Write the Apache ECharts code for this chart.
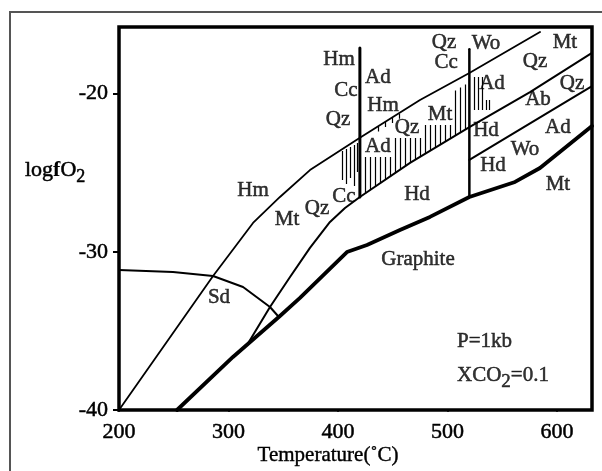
<!DOCTYPE html>
<html><head><meta charset="utf-8">
<script src="https://cdn.jsdelivr.net/npm/echarts@6/dist/echarts.min.js"></script>
<style>html,body{margin:0;padding:0;background:#fff}#c{width:602px;height:471px}</style>
</head><body><div id="c"></div>
<script>
// ---- data (T in °C, logfO2) ----
const xTicks = [200, 300, 400, 500, 600];
const yTicks = [-40, -30, -20];
const hmMt = [[200,-40],[285.9,-31.53],[322.4,-28.18],[347.0,-26.54],[374.4,-24.84],[420,-22.8],[474.9,-20.41],[520,-18.71],[584.5,-16.12]];
const mtHd = [[317.8,-35.8],[337.9,-33.49],[356.2,-31.6],[374.4,-29.76],[392.7,-28.12],[406.4,-27.24],[420,-26.54],[465.8,-24.39],[520,-22.12],[575.4,-19.91],[632,-17.44]];
const hdAb = [[520,-24.2],[632,-19.53]];
const graphite = [[253,-40],[304.1,-36.65],[347,-34.06],[365.3,-32.92],[408.2,-30.02],[426.5,-29.57],[456.6,-28.63],[484,-27.8],[520,-26.54],[561.7,-25.59],[584.5,-24.71],[632,-22.05]];
const sdCurve = [[200,-31.15],[249.3,-31.28],[285.9,-31.53],[313.3,-32.23],[337.9,-33.49],[345.2,-34.06]];
const iso420 = [[420,-17.13],[420,-26.54]];
const iso520 = [[520,-17.2],[520,-26.54]];
// hatch strokes: [T, top, bottom]
const hatch = [
 [403.7,-23.63,-25.47],[407.3,-23.51,-25.72],[411.0,-23.38,-25.34],[414.6,-23.25,-25.85],[417.4,-23.13,-24.96],
 [424.7,-24.01,-26.33],[429.2,-24.01,-26.11],[433.8,-24.01,-25.90],[438.4,-24.01,-25.69],[442.9,-24.01,-25.47],[447.5,-24.01,-25.25],
 [452.1,-22.81,-25.04],[456.6,-22.81,-24.82],[461.2,-22.81,-24.61],[465.8,-22.81,-24.39],[470.3,-22.81,-24.20],[474.9,-22.81,-24.01],
 [479.5,-21.99,-23.82],[484.0,-21.99,-23.63],[488.6,-21.99,-23.44],[493.2,-21.99,-23.25],[497.7,-21.99,-23.06],[502.3,-21.99,-22.88],
 [506.9,-19.81,-22.69],[511.4,-19.62,-22.50],[516.0,-19.43,-22.31],
 [524.2,-18.96,-21.04],[527.9,-18.96,-21.04],[531.5,-18.96,-21.04],[535.2,-20.41,-21.04],[537.9,-20.41,-21.04],
 [436.5,-22.09,-22.41],[443.0,-21.80,-22.12],[449.3,-21.55,-21.87],[455.7,-21.28,-21.60]
];
// region labels: [T, logfO2, text]
const regionLabels = [
 [322.4,-26.10,'Hm'],[353.4,-27.99,'Mt'],[380.8,-27.24,'Qz'],[405.5,-26.48,'Cc'],
 [400.9,-17.88,'Hm'],[407.3,-19.84,'Cc'],[400.0,-21.67,'Qz'],
 [436.5,-18.96,'Ad'],[441.1,-20.79,'Hm'],[436.5,-23.32,'Ad'],[463.0,-22.18,'Qz'],[493.2,-21.30,'Mt'],
 [472.2,-26.41,'Hd'],[496.8,-16.75,'Qz'],[498.7,-18.07,'Cc'],[535.2,-16.81,'Wo'],[607.3,-16.75,'Mt'],
 [579.9,-17.95,'Qz'],[540.7,-19.34,'Ad'],[613.7,-19.34,'Qz'],[582.7,-20.35,'Ab'],[535.2,-22.37,'Hd'],
 [600.9,-22.18,'Ad'],[570.8,-23.57,'Wo'],[541.6,-24.58,'Hd'],[600.9,-25.78,'Mt'],
 [473.1,-30.52,'Graphite'],[291.3,-32.92,'Sd']
];
const condLabels = [[508.7,-35.64,'P=1kb'],[508.7,-37.79,'{n|XCO}{s|2}{n|=0.1}']];

const FONT = 'Liberation Serif';
const INK = {textBorderColor:'#000', textBorderWidth:0.5};
const chart = echarts.init(document.getElementById('c'), null, {renderer:'canvas'});
function lineSeries(data, width){
  return {type:'line', data:data, showSymbol:false, symbol:'none', silent:true, animation:false,
    lineStyle:{color:'#000', width:width, join:'round', cap:'round'}, z:3};
}
const option = {
  animation:false,
  backgroundColor:'#fff',
  grid:{left:119, right:10, top:27, bottom:61, show:true, borderColor:'#000', borderWidth:3.5, backgroundColor:'transparent'},
  xAxis:{type:'value', min:200, max:632, interval:100,
    axisLine:{show:false}, splitLine:{show:false},
    axisTick:{show:true, length:2, customValues:xTicks, lineStyle:{color:'#000', width:1.5}},
    axisLabel:Object.assign({customValues:xTicks, color:'#000', fontFamily:FONT, fontSize:22, margin:11}, INK)},
  yAxis:{type:'value', min:-40, max:-15.8, interval:10,
    axisLine:{show:false}, splitLine:{show:false},
    axisTick:{show:true, length:6, customValues:yTicks, lineStyle:{color:'#000', width:2}},
    axisLabel:Object.assign({customValues:yTicks, color:'#000', fontFamily:FONT, fontSize:22, margin:11}, INK)},
  graphic:[
    {type:'rect', shape:{x:10, y:12, width:600, height:470}, style:{fill:'none', stroke:'#555', lineWidth:2}, z:0},
    {type:'text', x:25, y:170, style:{text:'{n|log}{b|f}{n|O}{s|2}', verticalAlign:'middle',
      rich:{n:{fontFamily:FONT, fontSize:22, fill:'#000', stroke:'#000', lineWidth:0.5},
            b:{fontFamily:FONT, fontSize:22, fontWeight:'bold', fill:'#000'},
            s:{fontFamily:FONT, fontSize:18, fill:'#000', stroke:'#000', lineWidth:0.5, padding:[14,0,0,0]}}}},
    {type:'text', x:328, y:455, style:{text:'Temperature(˚C)', fontFamily:FONT, fontSize:21, fill:'#000', stroke:'#000', lineWidth:0.4, align:'center', verticalAlign:'middle'}}
  ],
  series:[
    lineSeries(hmMt, 1.8),
    lineSeries(mtHd, 2),
    lineSeries(hdAb, 2),
    lineSeries(graphite, 3.8),
    lineSeries(sdCurve, 2),
    lineSeries(iso420, 3),
    lineSeries(iso520, 2.5),
    {type:'lines', coordinateSystem:'cartesian2d', silent:true, animation:false, z:2,
      lineStyle:{color:'#000', width:1.2, opacity:1},
      data: hatch.map(h => ({coords:[[h[0],h[1]],[h[0],h[2]]]}))},
    {type:'scatter', silent:true, animation:false, symbolSize:1, itemStyle:{color:'rgba(0,0,0,0)'}, z:5,
      data: regionLabels.map(l => ({value:[l[0],l[1]], name:l[2]})),
      label:Object.assign({show:true, position:'inside', formatter:'{b}', color:'#000', fontFamily:FONT, fontSize:21}, INK)},
    {type:'scatter', silent:true, animation:false, symbolSize:1, itemStyle:{color:'rgba(0,0,0,0)'}, z:5,
      data: condLabels.map(l => ({value:[l[0],l[1]], name:l[2]})),
      label:{show:true, position:'inside', align:'left', formatter:'{b}', color:'#000', fontFamily:FONT, fontSize:21,
        textBorderColor:'#000', textBorderWidth:0.5,
        rich:{n:{fontFamily:FONT, fontSize:21, color:'#000', textBorderColor:'#000', textBorderWidth:0.5},
              s:{fontFamily:FONT, fontSize:19, color:'#000', textBorderColor:'#000', textBorderWidth:0.5, padding:[14,0,0,0]}}}}
  ]
};
chart.setOption(option);
</script></body></html>
